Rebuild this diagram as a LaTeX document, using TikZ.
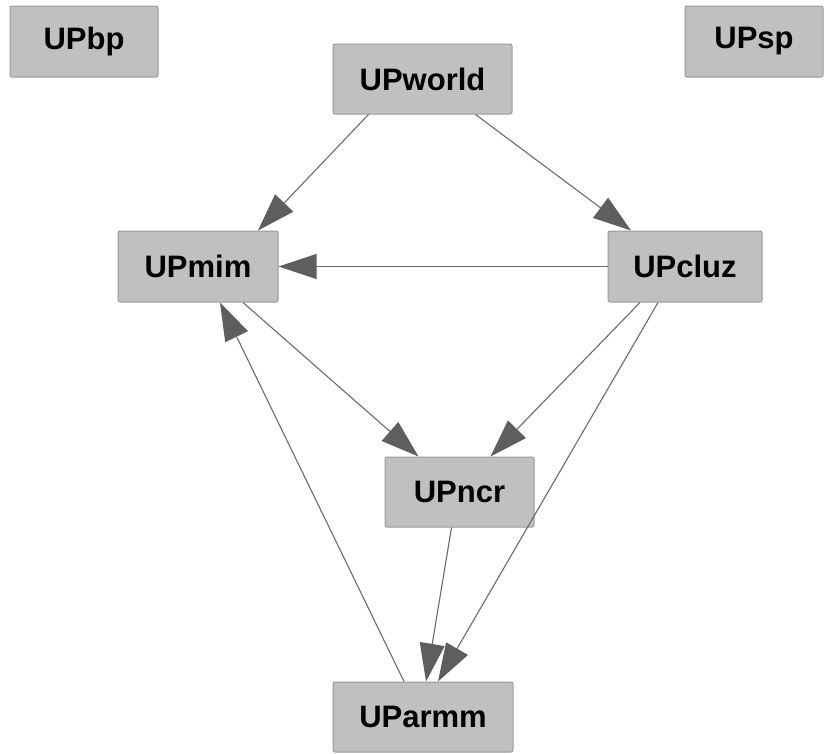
\documentclass[tikz,border=0pt]{standalone}
\usepackage{fontspec}
\setmainfont{Liberation Sans}
\usetikzlibrary{arrows.meta}
\definecolor{boxfill}{HTML}{C0C0C0}
\definecolor{boxline}{HTML}{9A9A9A}
\definecolor{edgecol}{HTML}{6A6A6A}
\definecolor{headcol}{HTML}{5E5E5E}
\tikzset{
  pkg/.style={draw=boxline, fill=boxfill, line width=1pt, rounded corners=2pt,
    font=\fontsize{31}{31}\selectfont\bfseries, text=black, inner sep=0pt},
  dep/.style={draw=edgecol, line width=1.1pt,
    -{Triangle[length=38pt,width=25pt,color=headcol,fill=headcol]}}
}
\begin{document}
\begin{tikzpicture}[x=1pt,y=-1pt]
\useasboundingbox (0,0) rectangle (825,753);
\node[pkg, minimum width=148pt, minimum height=71pt] (bp) at (84,41.5) {UPbp};
\node[pkg, minimum width=179pt, minimum height=70pt] (world) at (422.5,79) {UPworld};
\node[pkg, minimum width=138pt, minimum height=71pt] (sp) at (754,41.5) {UPsp};
\node[pkg, minimum width=160pt, minimum height=71pt] (mim) at (198,266.5) {UPmim};
\node[pkg, minimum width=154pt, minimum height=71pt] (cluz) at (685,266.5) {UPcluz};
\node[pkg, minimum width=149pt, minimum height=70pt] (ncr) at (459.5,492) {UPncr};
\node[pkg, minimum width=180pt, minimum height=70pt] (armm) at (423,717) {UParmm};

\draw[dep] ([xshift=-54pt]world.south) -- ([xshift=60pt]mim.north);
\draw[dep] ([xshift=53pt]world.south) -- ([xshift=-54pt]cluz.north);
\draw[dep] (cluz.west) -- (mim.east);
\draw[dep] ([xshift=45pt]mim.south) -- ([xshift=-41pt]ncr.north);
\draw[dep] ([xshift=-45pt]cluz.south) -- ([xshift=31pt]ncr.north);
\draw[dep] ([xshift=-27pt]cluz.south) -- ([xshift=15pt]armm.north);
\draw[dep] ([xshift=-8pt]ncr.south) -- ([xshift=3pt]armm.north);
\draw[dep] ([xshift=-19pt]armm.north) -- ([xshift=22pt]mim.south);
\end{tikzpicture}
\end{document}
